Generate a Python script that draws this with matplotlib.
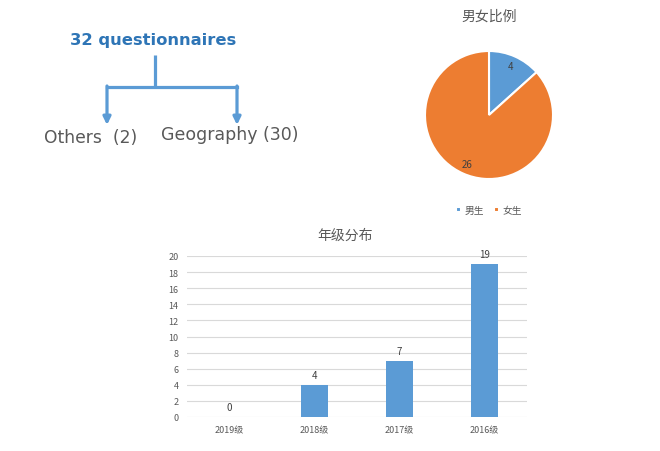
"""Questionnaire overview: source tree, gender pie and grade distribution bars."""
import matplotlib
matplotlib.use("Agg")
import matplotlib.pyplot as plt

plt.rcParams["font.family"] = ["Noto Sans CJK SC", "DejaVu Sans"]

BLUE = "#5B9BD5"
ORANGE = "#ED7D31"
GRAY_TXT = "#595959"
GRID = "#D9D9D9"

# ---------- data ----------
total_label = "32 questionnaires"
branch_labels = ["Others  (2)", "Geography (30)"]

gender_labels = ["男生", "女生"]
gender_counts = [4, 26]
gender_colors = [BLUE, ORANGE]

grades = ["2019级", "2018级", "2017级", "2016级"]
grade_counts = [0, 4, 7, 19]

W, H = 660, 452
fig = plt.figure(figsize=(W / 100, H / 100), dpi=100)


def box(x0, y0, x1, y1):
    # pixel box (top-left origin) -> figure fraction rect
    return [x0 / W, 1 - y1 / H, (x1 - x0) / W, (y1 - y0) / H]


# ---------- tree diagram (pixel coordinates) ----------
tr = fig.add_axes([0, 0, 1, 1])
tr.set_xlim(0, W)
tr.set_ylim(H, 0)
tr.axis("off")
tr.text(153, 40, total_label, ha="center", va="center", fontsize=11.8,
        fontweight="bold", color="#2E75B6", family=["DejaVu Sans"])
tr.plot([155, 155], [56, 88], color=BLUE, lw=2.3, solid_capstyle="butt")
tr.plot([107, 237], [88, 88], color=BLUE, lw=2.3, solid_capstyle="projecting")
for x in (107, 237):
    tr.annotate("", xy=(x, 126), xytext=(x, 87),
                arrowprops=dict(arrowstyle="-|>,head_length=0.45,head_width=0.22",
                                color=BLUE, lw=2.3, shrinkA=0, shrinkB=0))
tr.text(44, 138, branch_labels[0], ha="left", va="center", fontsize=12.3,
        color=GRAY_TXT, family=["DejaVu Sans"])
tr.text(161, 135, branch_labels[1], ha="left", va="center", fontsize=12.5,
        color=GRAY_TXT, family=["DejaVu Sans"])

# ---------- pie ----------
ax_p = fig.add_axes(box(425, 52, 553, 180))
wedges, _, autotexts = ax_p.pie(
    gender_counts, colors=gender_colors, startangle=90, counterclock=False,
    autopct=lambda p: f"{round(p * sum(gender_counts) / 100):d}",
    pctdistance=0.83, wedgeprops=dict(edgecolor="white", linewidth=1.5),
    textprops=dict(fontsize=7, color="#404040"),
)
ax_p.set_xlim(-1, 1)
ax_p.set_ylim(-1, 1)
ax_p.set_aspect("equal")
tr.text(489, 17, "男女比例", ha="center", va="center", fontsize=10, color=GRAY_TXT)
fig.legend(wedges, gender_labels, loc="center", bbox_to_anchor=(489 / W, 1 - 211 / H),
           ncol=2, frameon=False, fontsize=7, handlelength=0.5, handleheight=0.5,
           handletextpad=0.4, columnspacing=1.0, labelcolor=GRAY_TXT)

# ---------- bars ----------
ax_b = fig.add_axes(box(187, 257, 527, 418))
x = range(len(grades))
bars = ax_b.bar(x, grade_counts, width=0.32, color=BLUE, zorder=3)
ax_b.set_xlim(-0.5, len(grades) - 0.5)
ax_b.set_ylim(0, 20)
ax_b.set_yticks(range(0, 21, 2))
ax_b.set_xticks(list(x))
ax_b.set_xticklabels(grades)
ax_b.yaxis.grid(True, color=GRID, lw=0.8, zorder=0)
for s in ax_b.spines.values():
    s.set_visible(False)
ax_b.tick_params(length=0, labelsize=6.5, labelcolor=GRAY_TXT, pad=6)
for rect, v in zip(bars, grade_counts):
    ax_b.annotate(f"{v}", xy=(rect.get_x() + rect.get_width() / 2, v),
                  xytext=(0, 7), textcoords="offset points", ha="center",
                  va="center", fontsize=7, color="#404040")
tr.text(345, 236, "年级分布", ha="center", va="center", fontsize=10, color=GRAY_TXT)

fig.savefig("out.png", dpi=100)
